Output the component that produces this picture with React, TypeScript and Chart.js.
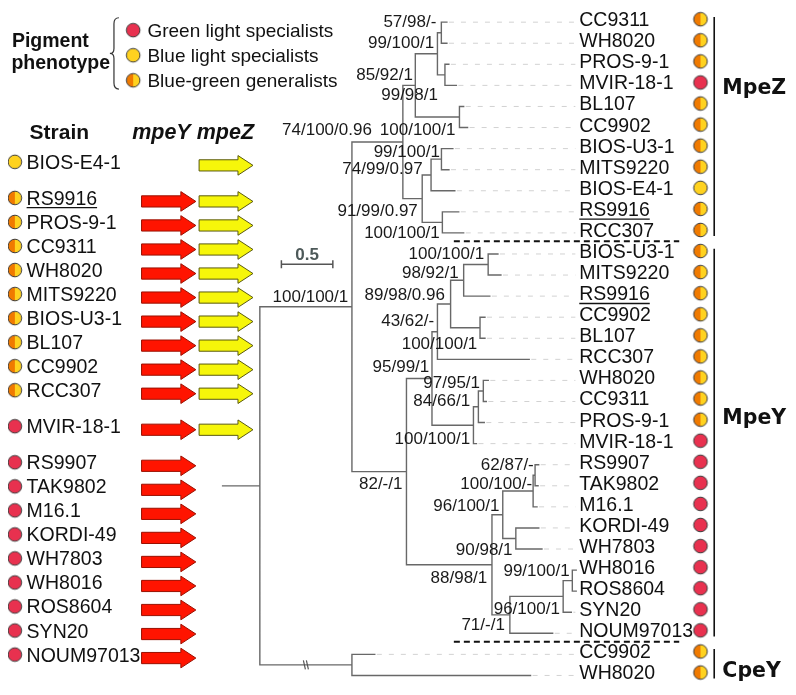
import React, { useEffect, useRef } from 'react';
import { Chart, registerables } from 'chart.js';

Chart.register(...registerables);

// ======================= DATA =======================
// Gene trees in Newick form: leaf:branchLength, internal nodes carry support "ML/NJ/BI".
const MPEZ_NEWICK =
  '((((CC9311:0.054,WH8020:0.054)57/98/-:0.038,(PROS-9-1:0.038,MVIR-18-1:0.111)99/98/1:0.073)99/100/1:0.215,(BL107:0.041,CC9902:0.079)100/100/1:0.429)85/92/1:0.121,(((BIOS-U3-1:0.111,MITS9220:0.073)99/100/1:0.101,BIOS-E4-1:0.231)74/99/0.97:0.086,(RS9916:0.159,RCC307:0.207)100/100/1:0.196)91/99/0.97:0.188)74/100/0.96:0.495';
const MPEY_NEWICK =
  '((((((BIOS-U3-1:0.095,MITS9220:0.124)100/100/1:0.238,RS9916:0.254)98/92/1:0.127,(CC9902:0.048,BL107:0.048)100/100/1:0.286)89/98/0.96:0.128,RCC307:0.892)43/62/-:0.053,(((WH8020:0.048,CC9311:0.029)97/95/1:0.048,PROS-9-1:0.057)84/66/1:0.048,MVIR-18-1:0.029)100/100/1:0.403)95/99/1:0.248,((((RS9907:0.035,TAK9802:0.029)62/87/-:0.019,M16.1:0.038)100/100/-:0.295,(KORDI-49:0.223,WH7803:0.254)90/98/1:0.127)96/100/1:0.105,(((WH8016:0.038,ROS8604:0.038)99/100/1:0.089,SYN20:0.079)96/100/1:0.518,NOUM97013:0.416)71/-/1:0.174)88/98/1:0.831)82/-/1:0.530';
const CPEY_NEWICK = '(CC9902:0.222,WH8020:1.736):0.895';
const MPEZ_MPEY_SUPPORT = '100/100/1';
const MPEZ_MPEY_STEM = 0.895;
const ROOT_STEM = 0.362;
const GROUP_NAMES = ['MpeZ', 'MpeY', 'CpeY'];
const SCALE_BAR_VALUE = 0.5;

const GREEN_LIGHT_SPECIALISTS = ['MVIR-18-1', 'RS9907', 'TAK9802', 'M16.1', 'KORDI-49', 'WH7803', 'WH8016', 'ROS8604', 'SYN20', 'NOUM97013'];
const BLUE_LIGHT_SPECIALISTS = ['BIOS-E4-1'];
const BLUE_GREEN_GENERALISTS = ['RS9916', 'PROS-9-1', 'CC9311', 'WH8020', 'MITS9220', 'BIOS-U3-1', 'BL107', 'CC9902', 'RCC307'];
const UNDERLINED_STRAINS = ['RS9916'];

const STRAIN_ROW_GROUPS = [
  ['BIOS-E4-1'],
  ['RS9916', 'PROS-9-1', 'CC9311', 'WH8020', 'MITS9220', 'BIOS-U3-1', 'BL107', 'CC9902', 'RCC307'],
  ['MVIR-18-1'],
  ['RS9907', 'TAK9802', 'M16.1', 'KORDI-49', 'WH7803', 'WH8016', 'ROS8604', 'SYN20', 'NOUM97013'],
];
const HAS_MPEY_GENE = ['RS9916', 'PROS-9-1', 'CC9311', 'WH8020', 'MITS9220', 'BIOS-U3-1', 'BL107', 'CC9902', 'RCC307', 'MVIR-18-1', 'RS9907', 'TAK9802', 'M16.1', 'KORDI-49', 'WH7803', 'WH8016', 'ROS8604', 'SYN20', 'NOUM97013'];
const HAS_MPEZ_GENE = ['BIOS-E4-1', 'RS9916', 'PROS-9-1', 'CC9311', 'WH8020', 'MITS9220', 'BIOS-U3-1', 'BL107', 'CC9902', 'RCC307', 'MVIR-18-1'];

const LEGEND_LABELS = ['Green light specialists', 'Blue light specialists', 'Blue-green generalists'];
const LEGEND_KINDS = ['green', 'blue', 'bg'];
const LEGEND_TITLE = ['Pigment', 'phenotype'];
const STRAIN_HEADER = 'Strain';
const GENE_HEADER = 'mpeY mpeZ';

// ======================= LAYOUT =======================
const W = 796, H = 695;
const TREE_ORIGIN_PX = 219, PX_PER_UNIT = 105;
const LEAF_TOP_PX = 14.5, LEAF_STEP_PX = 21.57, LEAF_TEXT_LIFT_PX = 3;
const toTree = (px: number) => (px - TREE_ORIGIN_PX) / PX_PER_UNIT;
const LABEL_COL = toTree(583), LEADER_END = toTree(579), DOT_COL = toTree(706.7), BAR_COL = toTree(720.7), GROUP_LABEL_COL = toTree(729);
const SEP_FROM = toTree(455), SEP_TO = toTree(685);
const GROUP_LABEL_ROWS = [3.05, 18.7, 30.7];
const SLOT_TOP_PX = 157.5, SLOT_STEP_PX = 24.6, SLOT_GROUP_GAP = 0.5;
const STRAIN_DOT_X = 7, STRAIN_TEXT_X = 19;
const GENE_SPANS: Record<string, number[]> = { mpeY: [136.3, 191.7], mpeZ: [195, 250] };
const ARROW_DROP_PX = 3.5;
const LEGEND_DOT_X = 127.7, LEGEND_TEXT_X = 142.3, LEGEND_ROWS_Y = [22.7, 48.3, 74];
const SCALE_BAR_START = toTree(279), SCALE_BAR_Y = 262.3;
const LABEL_SIZE = 19.5, SUPPORT_SIZE = 17;
// support-label anchor offsets (px) from each labelled node, in preorder: [right-edge dx, centre dy]
const SUPPORT_OFFSETS = [
  [-3.7, -10.6], [-31, -13], [-2.4, -11], [-3.3, -11.7], [-5, -12], [-7, 19.5], [-4, 12], [-4.4, 11.4], [-8.4, -6.7], [-1.6, -8], [-2.6, 10],
  [-4, 11.3], [-2.7, -12.3], [-3.3, -11.7], [-5.7, -10], [-5, -8], [-4, -11.8], [-2.7, 14.7], [-3.3, 13], [-8.3, -6.5], [-3.3, -9],
  [-4.7, 12.2], [-3.3, -10.3], [-1, -8], [-1.3, -11.6], [-3.3, 10], [-5, 9], [-3.3, 11], [-2.7, -10.3],
];

const SANS = '"Liberation Sans", Arial, Helvetica, sans-serif';
const RED = '#e8314f', YELLOW = '#ffd21f', ORANGE = '#f07a00', OUTLINE = '#3a3a3a';

type TNode = { name: string; len: number; children: TNode[]; x: number; y: number };

function parseNewick(src: string): TNode {
  const s = src.replace(/;\s*$/, '');
  let i = 0;
  const read = (): TNode => {
    const node: TNode = { name: '', len: 0, children: [], x: 0, y: 0 };
    if (s[i] === '(') {
      i++;
      node.children.push(read());
      while (s[i] === ',') { i++; node.children.push(read()); }
      i++;
    }
    let name = '';
    while (i < s.length && ',():'.indexOf(s[i]) < 0) name += s[i++];
    node.name = name.trim();
    if (s[i] === ':') {
      i++;
      let num = '';
      while (i < s.length && ',()'.indexOf(s[i]) < 0) num += s[i++];
      node.len = parseFloat(num);
    }
    return node;
  };
  return read();
}

function buildTree() {
  const groups = [MPEZ_NEWICK, MPEY_NEWICK, CPEY_NEWICK].map(parseNewick);
  const split: TNode = { name: MPEZ_MPEY_SUPPORT, len: MPEZ_MPEY_STEM, children: [groups[0], groups[1]], x: 0, y: 0 };
  const root: TNode = { name: '', len: ROOT_STEM, children: [split, groups[2]], x: 0, y: 0 };
  const leaves: TNode[] = [];
  const internal: TNode[] = [];
  const lay = (n: TNode, px: number) => {
    n.x = px + n.len;
    if (!n.children.length) { n.y = leaves.length; leaves.push(n); return; }
    internal.push(n);
    n.children.forEach((c) => lay(c, n.x));
    n.y = (n.children[0].y + n.children[n.children.length - 1].y) / 2;
  };
  lay(root, 0);
  const ranges = groups.map((g) => {
    const ls: TNode[] = [];
    const col = (n: TNode) => { if (!n.children.length) ls.push(n); else n.children.forEach(col); };
    col(g);
    return [ls[0].y, ls[ls.length - 1].y];
  });
  return { root, leaves, internal, ranges, cpey: groups[2] };
}

function phenotypeOf(name: string) {
  if (GREEN_LIGHT_SPECIALISTS.includes(name)) return 'green';
  if (BLUE_LIGHT_SPECIALISTS.includes(name)) return 'blue';
  if (BLUE_GREEN_GENERALISTS.includes(name)) return 'bg';
  return 'bg';
}

function makeDot(kind: string): HTMLCanvasElement {
  const s = 18, r = 6.8;
  const c = document.createElement('canvas');
  c.width = s; c.height = s;
  const g = c.getContext('2d')!;
  const cx = s / 2, cy = s / 2;
  if (kind === 'bg') {
    g.beginPath(); g.moveTo(cx, cy); g.arc(cx, cy, r, Math.PI / 2, Math.PI * 1.5); g.closePath(); g.fillStyle = ORANGE; g.fill();
    g.beginPath(); g.moveTo(cx, cy); g.arc(cx, cy, r, -Math.PI / 2, Math.PI / 2); g.closePath(); g.fillStyle = YELLOW; g.fill();
  } else {
    g.beginPath(); g.arc(cx, cy, r, 0, Math.PI * 2); g.fillStyle = kind === 'green' ? RED : YELLOW; g.fill();
  }
  g.beginPath(); g.arc(cx, cy, r, 0, Math.PI * 2); g.lineWidth = 1; g.strokeStyle = OUTLINE; g.stroke();
  return c;
}

export default function App() {
  const ref = useRef<HTMLCanvasElement>(null);

  useEffect(() => {
    const canvas = ref.current;
    if (!canvas) return;
    const T = buildTree();
    const dots: Record<string, HTMLCanvasElement> = { green: makeDot('green'), blue: makeDot('blue'), bg: makeDot('bg') };
    const gap = { x: null, y: null } as any;

    // branches
    const branchPts: any[] = [];
    branchPts.push({ x: 0, y: T.root.y }, { x: T.root.x, y: T.root.y }, gap);
    T.internal.forEach((n) => {
      const f = n.children[0], l = n.children[n.children.length - 1];
      branchPts.push({ x: f.x, y: f.y }, { x: n.x, y: f.y }, { x: n.x, y: l.y }, { x: l.x, y: l.y }, gap);
      n.children.slice(1, -1).forEach((c) => branchPts.push({ x: n.x, y: c.y }, { x: c.x, y: c.y }, gap));
    });

    // leaders
    const leaderPts: any[] = [];
    T.leaves.forEach((lf) => {
      if (lf.x + 0.03 < LEADER_END) leaderPts.push({ x: lf.x + 0.02, y: lf.y }, { x: LEADER_END, y: lf.y }, gap);
    });

    // separators & group bars
    const sepPts: any[] = [];
    for (let g = 0; g < T.ranges.length - 1; g++) {
      const yv = T.ranges[g][1] + 0.5 - 0.1;
      sepPts.push({ x: SEP_FROM, y: yv }, { x: SEP_TO, y: yv }, gap);
    }
    const barPts: any[] = [];
    T.ranges.forEach((r) => barPts.push({ x: BAR_COL, y: r[0] - 0.25 }, { x: BAR_COL, y: r[1] + 0.15 }, gap));

    // scale bar (px in y via 'yp')
    const sb0 = SCALE_BAR_START, sb1 = SCALE_BAR_START + SCALE_BAR_VALUE;
    const scalePts: any[] = [
      { x: sb0, y: SCALE_BAR_Y - 4 }, { x: sb0, y: SCALE_BAR_Y + 4 }, gap,
      { x: sb0, y: SCALE_BAR_Y }, { x: sb1, y: SCALE_BAR_Y }, gap,
      { x: sb1, y: SCALE_BAR_Y - 4 }, { x: sb1, y: SCALE_BAR_Y + 4 },
    ];

    // dots
    const lift = LEAF_TEXT_LIFT_PX / LEAF_STEP_PX;
    const leafDots = T.leaves.map((lf) => ({ x: DOT_COL, y: lf.y - lift }));
    const leafDotStyles = T.leaves.map((lf) => dots[phenotypeOf(lf.name)]);

    const strainRows: { name: string; slot: number }[] = [];
    let idx = 0;
    STRAIN_ROW_GROUPS.forEach((grp, gi) => grp.forEach((name) => { strainRows.push({ name, slot: idx + gi * SLOT_GROUP_GAP }); idx++; }));
    const strainDots = strainRows.map((r) => ({ x: STRAIN_DOT_X, y: r.slot }));
    const strainDotStyles = strainRows.map((r) => dots[phenotypeOf(r.name)]);
    const legendDots = LEGEND_ROWS_Y.map((y) => ({ x: LEGEND_DOT_X, y }));
    const legendDotStyles = LEGEND_KINDS.map((k) => dots[k]);

    const labelled = T.internal.filter((n) => n.name);
    const breakNode = { x: (T.root.x + T.cpey.x) / 2, y: T.cpey.y };

    const txt = (ctx: CanvasRenderingContext2D, s: string, x: number, cy: number, size: number, font: string, align: CanvasTextAlign = 'left', color = '#111', cap = 0.716) => {
      ctx.font = font; ctx.fillStyle = color; ctx.textAlign = align; ctx.textBaseline = 'alphabetic';
      const base = cy + (size * cap) / 2;
      ctx.fillText(s, x, base);
      return base;
    };
    const underline = (ctx: CanvasRenderingContext2D, s: string, x: number, base: number, dy: number) => {
      const w = ctx.measureText(s).width;
      ctx.beginPath(); ctx.moveTo(x, base + dy); ctx.lineTo(x + w, base + dy);
      ctx.lineWidth = 1.3; ctx.strokeStyle = '#111'; ctx.stroke();
    };
    const arrow = (ctx: CanvasRenderingContext2D, x0: number, x1: number, yc: number, fill: string, stroke: string) => {
      const head = 15, bh = 5.6, hh = 9.8;
      ctx.beginPath();
      ctx.moveTo(x0, yc - bh); ctx.lineTo(x1 - head, yc - bh); ctx.lineTo(x1 - head, yc - hh); ctx.lineTo(x1, yc);
      ctx.lineTo(x1 - head, yc + hh); ctx.lineTo(x1 - head, yc + bh); ctx.lineTo(x0, yc + bh); ctx.closePath();
      ctx.fillStyle = fill; ctx.fill(); ctx.lineWidth = 1; ctx.strokeStyle = stroke; ctx.stroke();
    };

    const textPlugin = {
      id: 'treeText',
      afterDatasetsDraw(chart: any) {
        const ctx: CanvasRenderingContext2D = chart.ctx;
        const sx = chart.scales.x, sy = chart.scales.y, xl = chart.scales.xl, ys = chart.scales.ys, yp = chart.scales.yp;
        ctx.save();

        // legend
        txt(ctx, LEGEND_TITLE[0], xl.getPixelForValue(4), yp.getPixelForValue(33), 19.5, `bold 19.5px ${SANS}`);
        txt(ctx, LEGEND_TITLE[1], xl.getPixelForValue(3.5), yp.getPixelForValue(55.3), 19.5, `bold 19.5px ${SANS}`);
        ctx.beginPath();
        {
          const bx = xl.getPixelForValue(104), bw = 9, t = yp.getPixelForValue(10), b = yp.getPixelForValue(83), m = (t + b) / 2, cx = bx + bw * 0.45;
          ctx.moveTo(bx + bw, t);
          ctx.quadraticCurveTo(cx, t, cx, t + 6);
          ctx.lineTo(cx, m - 5);
          ctx.quadraticCurveTo(cx, m, bx, m);
          ctx.quadraticCurveTo(cx, m, cx, m + 5);
          ctx.lineTo(cx, b - 6);
          ctx.quadraticCurveTo(cx, b, bx + bw, b);
        }
        ctx.lineWidth = 1.2; ctx.strokeStyle = '#333'; ctx.stroke();
        LEGEND_LABELS.forEach((s, i) => txt(ctx, s, xl.getPixelForValue(LEGEND_TEXT_X), yp.getPixelForValue(LEGEND_ROWS_Y[i]), 19, `19px ${SANS}`));

        // headers
        txt(ctx, STRAIN_HEADER, xl.getPixelForValue(22), yp.getPixelForValue(126.7), 21, `bold 21px ${SANS}`);
        txt(ctx, GENE_HEADER, xl.getPixelForValue(126.7), yp.getPixelForValue(126.7), 21.5, `italic bold 21.5px ${SANS}`);

        // strain list + arrows
        strainRows.forEach((r) => {
          const cy = ys.getPixelForValue(r.slot);
          const base = txt(ctx, r.name, xl.getPixelForValue(STRAIN_TEXT_X), cy, LABEL_SIZE, `${LABEL_SIZE}px ${SANS}`);
          if (UNDERLINED_STRAINS.includes(r.name)) underline(ctx, r.name, xl.getPixelForValue(STRAIN_TEXT_X), base, 2.8);
          const ay = cy + ARROW_DROP_PX;
          if (HAS_MPEY_GENE.includes(r.name)) arrow(ctx, xl.getPixelForValue(GENE_SPANS.mpeY[0]), xl.getPixelForValue(GENE_SPANS.mpeY[1]), ay, '#ff1400', '#9a1000');
          if (HAS_MPEZ_GENE.includes(r.name)) arrow(ctx, xl.getPixelForValue(GENE_SPANS.mpeZ[0]), xl.getPixelForValue(GENE_SPANS.mpeZ[1]), ay, '#f6f60a', '#5a5a10');
        });

        // leaf labels
        T.leaves.forEach((lf) => {
          const x = sx.getPixelForValue(LABEL_COL);
          const cy = sy.getPixelForValue(lf.y) - LEAF_TEXT_LIFT_PX;
          const base = txt(ctx, lf.name, x, cy, LABEL_SIZE, `${LABEL_SIZE}px ${SANS}`);
          if (UNDERLINED_STRAINS.includes(lf.name)) underline(ctx, lf.name, x, base, 3.4);
        });

        // support values
        labelled.forEach((n, i) => {
          const off = SUPPORT_OFFSETS[i] || [-3.5, -11];
          const px = sx.getPixelForValue(n.x) + off[0];
          const py = sy.getPixelForValue(n.y) + off[1];
          txt(ctx, n.name, px, py, SUPPORT_SIZE, `${SUPPORT_SIZE}px ${SANS}`, 'right', '#1a1a1a');
        });

        // group labels
        GROUP_NAMES.forEach((g, i) => {
          txt(ctx, g, sx.getPixelForValue(GROUP_LABEL_COL), sy.getPixelForValue(GROUP_LABEL_ROWS[i]), 20.5, `bold 20.5px "DejaVu Sans", Verdana, sans-serif`, 'left', '#111', 0.729);
        });

        // scale bar label
        txt(ctx, String(SCALE_BAR_VALUE), (sx.getPixelForValue(sb0) + sx.getPixelForValue(sb1)) / 2, yp.getPixelForValue(SCALE_BAR_Y - 10.6), 17, `bold 17px ${SANS}`, 'center', '#4d5959');

        // break mark on CpeY stem
        const bxp = sx.getPixelForValue(breakNode.x), byp = sy.getPixelForValue(breakNode.y);
        ctx.beginPath();
        ctx.moveTo(bxp - 2.5, byp - 4.5); ctx.lineTo(bxp - 0.5, byp + 4.5);
        ctx.moveTo(bxp + 0.5, byp - 4.5); ctx.lineTo(bxp + 2.5, byp + 4.5);
        ctx.lineWidth = 1.2; ctx.strokeStyle = '#555'; ctx.stroke();

        ctx.restore();
      },
    };

    const lineDs = (data: any[], color: string, width: number, extra: any = {}) => ({
      data, showLine: true, borderColor: color, borderWidth: width, pointRadius: 0, pointHoverRadius: 0, fill: false, xAxisID: 'x', yAxisID: 'y', ...extra,
    });

    const chart = new Chart(canvas, {
      type: 'scatter',
      data: {
        datasets: [
          lineDs(leaderPts, '#d2d2d2', 1, { borderDash: [5, 7] }),
          lineDs(branchPts, '#686868', 1.4, { borderCapStyle: 'square' }),
          lineDs(sepPts, '#111', 2, { borderDash: [6, 4] }),
          lineDs(barPts, '#111', 1.6),
          lineDs(scalePts, '#555', 1.5, { yAxisID: 'yp' }),
          { data: leafDots, pointStyle: leafDotStyles, pointRadius: 7, showLine: false, xAxisID: 'x', yAxisID: 'y' },
          { data: strainDots, pointStyle: strainDotStyles, pointRadius: 7, showLine: false, xAxisID: 'xl', yAxisID: 'ys' },
          { data: legendDots, pointStyle: legendDotStyles, pointRadius: 7, showLine: false, xAxisID: 'xl', yAxisID: 'yp' },
        ] as any,
      },
      options: {
        responsive: false,
        animation: false,
        devicePixelRatio: 1,
        events: [],
        layout: { padding: 0 },
        plugins: { legend: { display: false }, tooltip: { enabled: false } },
        scales: {
          x: { type: 'linear', axis: 'x', display: false, bounds: 'data', min: -TREE_ORIGIN_PX / PX_PER_UNIT, max: (W - TREE_ORIGIN_PX) / PX_PER_UNIT },
          y: { type: 'linear', axis: 'y', display: false, bounds: 'data', reverse: true, min: -LEAF_TOP_PX / LEAF_STEP_PX, max: (H - LEAF_TOP_PX) / LEAF_STEP_PX },
          xl: { type: 'linear', axis: 'x', display: false, bounds: 'data', min: 0, max: W },
          yp: { type: 'linear', axis: 'y', display: false, bounds: 'data', reverse: true, min: 0, max: H },
          ys: { type: 'linear', axis: 'y', display: false, bounds: 'data', reverse: true, min: -SLOT_TOP_PX / SLOT_STEP_PX, max: (H - SLOT_TOP_PX) / SLOT_STEP_PX },
        } as any,
      } as any,
      plugins: [textPlugin],
    } as any);

    return () => chart.destroy();
  }, []);

  return (
    <div style={{ position: 'absolute', left: 0, top: 0, width: W, height: H, background: '#fff' }}>
      <canvas ref={ref} width={W} height={H} style={{ display: 'block', width: W, height: H }} />
    </div>
  );
}
